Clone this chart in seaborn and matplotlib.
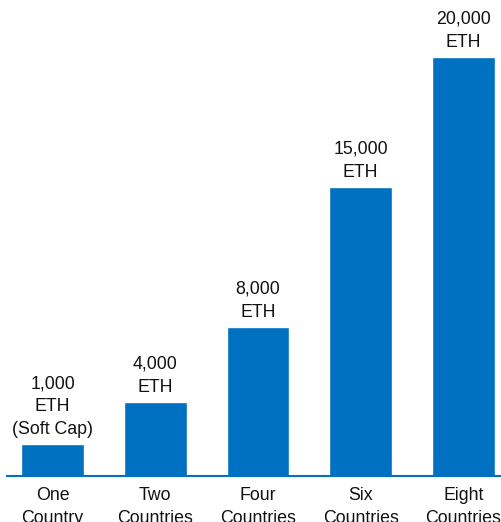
import matplotlib
matplotlib.use("Agg")
import matplotlib.pyplot as plt
import seaborn as sns
import pandas as pd

# Data
categories = ["One\nCountry", "Two\nCountries", "Four\nCountries", "Six\nCountries", "Eight\nCountries"]
# bar heights as drawn in the picture (not to scale with the labels)
bar_heights = [32, 74, 149, 289, 419]
value_labels = ["1,000\nETH\n(Soft Cap)", "4,000\nETH", "8,000\nETH", "15,000\nETH", "20,000\nETH"]

blue = "#0070C0"

sns.set_theme(style="white")
plt.rcParams['font.family'] = ['Liberation Sans', 'DejaVu Sans']

df = pd.DataFrame({"cat": categories, "h": bar_heights})

fig = plt.figure(figsize=(5.02, 5.22), dpi=100)
ax = fig.add_axes([7 / 502, 46 / 522, 495 / 502, 476 / 522])

sns.barplot(data=df, x="cat", y="h", color=blue, saturation=1, width=0.613, ax=ax)

ax.set_xlim(-0.443, 4.375)
ax.set_ylim(0, 476)

for i, (h, lab) in enumerate(zip(bar_heights, value_labels)):
    ax.annotate(lab, (i, h), xytext=(0, 4.5), textcoords="offset points",
                ha="center", va="bottom", fontsize=12.8, color="#111111",
                linespacing=1.45)

ax.set_xlabel("")
ax.set_ylabel("")
ax.set_yticks([])
ax.tick_params(axis="x", length=0, pad=8, labelsize=12.8, labelcolor="#111111")
for lbl in ax.get_xticklabels():
    lbl.set_linespacing(1.45)
    lbl.set_va("top")

for s in ["top", "right", "left"]:
    ax.spines[s].set_visible(False)
ax.spines["bottom"].set_color(blue)
ax.spines["bottom"].set_linewidth(1.5)

fig.savefig("out.png", dpi=100)
